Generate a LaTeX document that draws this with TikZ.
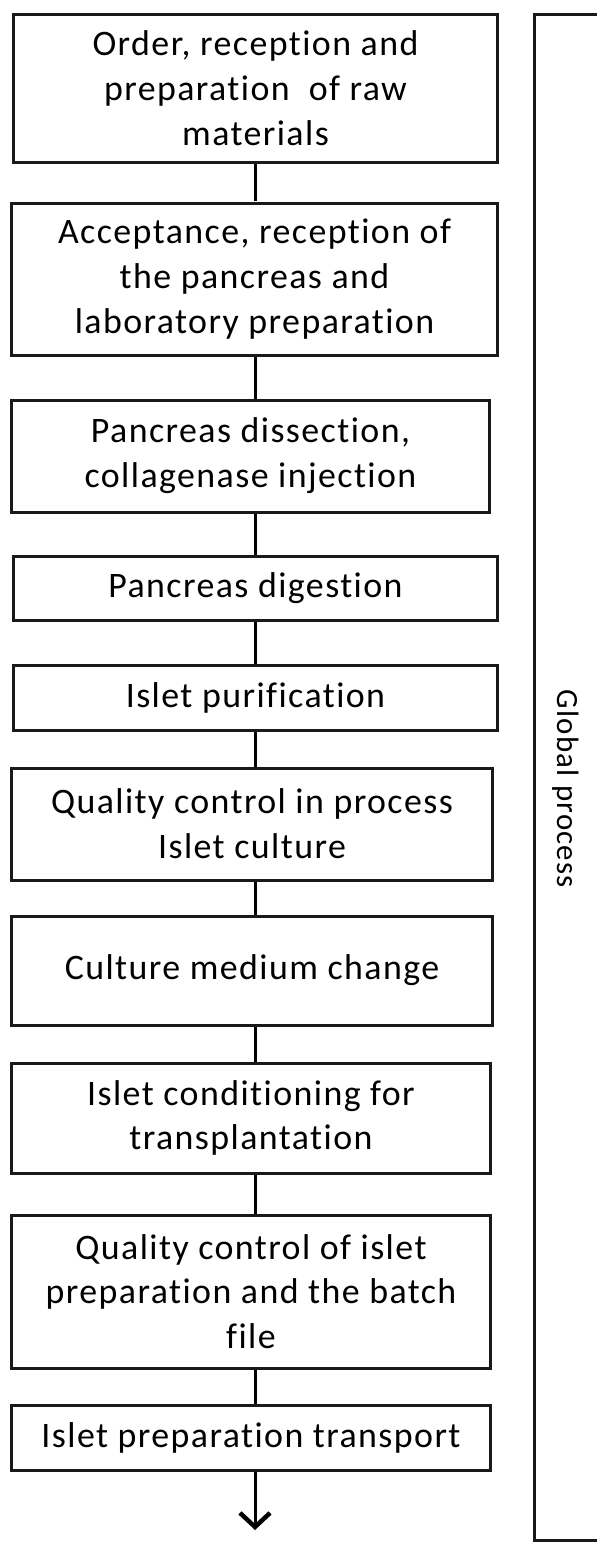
\documentclass[tikz,border=0pt]{standalone}
\usepackage{fontspec}
\setmainfont{Carlito}[Ligatures={NoCommon},LetterSpace=4]
\usetikzlibrary{arrows.meta}
\begin{document}
\begin{tikzpicture}[x=1bp,y=-1bp,
  stepbox/.style={draw=black!90,line width=3bp,rectangle,inner sep=0pt,align=center,
    font=\fontsize{36}{45}\selectfont},
  conn/.style={draw=black,line width=3bp}]
\useasboundingbox (0,0) rectangle (597,1545);
\fill[white] (0,0) rectangle (597,1545);
% boxes: center x, center y, width, height
\node[stepbox,minimum width=483bp,minimum height=147bp] (b1) at (255.5,88.5) {Order, reception and\\preparation\ \ of raw\\materials};
\node[stepbox,minimum width=485bp,minimum height=152bp] (b2) at (254.5,279) {Acceptance, reception of\\the pancreas and\\laboratory preparation};
\node[stepbox,minimum width=477bp,minimum height=112bp] (b3) at (250.5,456) {Pancreas dissection,\\collagenase injection};
\node[stepbox,minimum width=483bp,minimum height=64bp] (b4) at (255.5,588) {Pancreas digestion};
\node[stepbox,minimum width=483bp,minimum height=65bp] (b5) at (255.5,697.5) {Islet purification};
\node[stepbox,minimum width=480bp,minimum height=112bp] (b6) at (252,824) {Quality control in process\\Islet culture};
\node[stepbox,minimum width=480bp,minimum height=109bp] (b7) at (252,970.5) {Culture medium change};
\node[stepbox,minimum width=478bp,minimum height=110bp] (b8) at (251,1118) {Islet conditioning for\\transplantation};
\node[stepbox,minimum width=478bp,minimum height=153bp] (b9) at (251,1291.5) {Quality control of islet\\preparation and the batch\\file};
\node[stepbox,minimum width=478bp,minimum height=65bp] (b10) at (251,1437.5) {Islet preparation transport};
\coordinate (end) at (255,1530);
\foreach \a/\b in {b1/b2,b2/b3,b3/b4,b4/b5,b5/b6,b6/b7,b7/b8,b8/b9,b9/b10}
  \draw[conn] (\b.north -| 255,0) -- (\a.south -| 255,0);
\draw[conn,-{Straight Barb[length=14bp,width=30bp,line width=4.5bp]}] (b10.south -| end) -- (end);
% global process bracket
\coordinate (gtl) at (534,15);
\coordinate (gbl) at (534,1540);
\draw[draw=black!90,line width=3bp] (600,15) -- (gtl) -- (gbl) -- (600,1540);
\node[rotate=-90,font=\fontsize{31}{40}\selectfont] (glob) at (566,789) {Global process};
\end{tikzpicture}
\end{document}
